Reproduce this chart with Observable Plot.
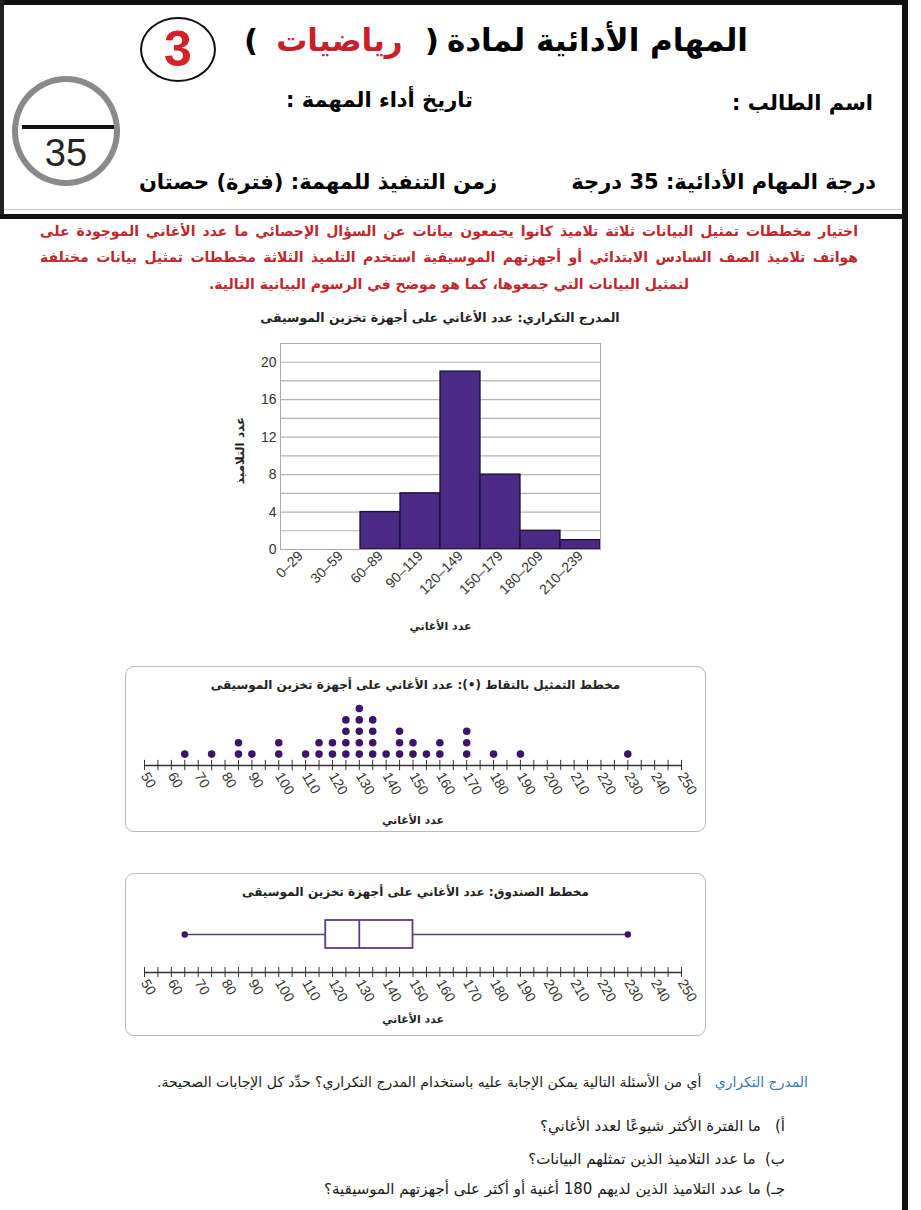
<!DOCTYPE html>
<html><head><meta charset="utf-8">
<script src="https://cdn.jsdelivr.net/npm/d3@7"></script>
<script src="https://cdn.jsdelivr.net/npm/@observablehq/plot@0.6"></script>
<style>
body{margin:0;background:#fff;}
#page{position:relative;width:921px;height:1210px;overflow:hidden;font-family:"DejaVu Sans",sans-serif;background:#fff;}
.abs{position:absolute;}
.ar{direction:rtl;white-space:nowrap;font-weight:bold;}
.box{position:absolute;box-sizing:border-box;border:1.5px solid #b8b8b8;border-radius:9px;}
</style></head><body><div id="page">
<!-- borders -->
<div class="abs" style="left:0;top:0;width:908px;height:5px;background:#111"></div>
<div class="abs" style="left:0;top:0;width:4px;height:218px;background:#222"></div>
<div class="abs" style="left:902px;top:0;width:6px;height:1210px;background:#111"></div>
<div class="abs" style="left:4px;top:209px;width:898px;height:1px;background:#ccc"></div>
<div class="abs" style="left:0;top:214px;width:908px;height:5px;background:#111"></div>

<!-- title -->
<div class="abs" style="left:236px;top:22px;width:520px;display:flex;justify-content:center;align-items:center;direction:ltr;font-weight:bold;font-size:31px;white-space:nowrap;">
  <span style="margin-right:18px">(</span>
  <span style="color:#c8202a;direction:rtl">رياضيات</span>
  <span style="margin-left:22px;margin-right:8px">)</span>
  <span style="direction:rtl">المهام الأدائية لمادة</span>
</div>
<div class="abs" style="left:140px;top:17px;width:76px;height:65px;box-sizing:border-box;border:2px solid #111;border-radius:50%;"></div>
<div class="abs" style="left:140px;top:17px;width:76px;height:65px;line-height:65px;text-align:center;color:#d42027;font-weight:bold;font-size:50px;font-family:'Liberation Sans',Arial,sans-serif">3</div>

<!-- score circle -->
<div class="abs" style="left:12px;top:76px;width:108px;height:110px;box-sizing:border-box;border:6px solid #8a8a8a;border-radius:50%;"></div>
<div class="abs" style="left:22px;top:125px;width:92px;height:4px;background:#111"></div>
<div class="abs" style="left:16px;top:134px;width:100px;text-align:center;font-size:38px;line-height:38px;color:#222;font-family:'Liberation Sans',Arial,sans-serif">35</div>

<!-- header fields -->
<div class="abs ar" style="right:48px;top:91px;font-size:21px">اسم الطالب :</div>
<div class="abs ar" style="right:448px;top:88px;font-size:21px">تاريخ أداء المهمة :</div>
<div class="abs ar" style="right:45px;top:170px;font-size:21px">درجة المهام الأدائية: 35 درجة</div>
<div class="abs ar" style="right:424px;top:170px;font-size:21px">زمن التنفيذ للمهمة: (فترة) حصتان</div>

<!-- red paragraph -->
<div class="abs ar" style="left:40px;top:223px;width:818px;font-size:14px;color:#c0272d;text-align:justify;text-align-last:justify">اختيار مخططات تمثيل البيانات ثلاثة تلاميذ كانوا يجمعون بيانات عن السؤال الإحصائي ما عدد الأغاني الموجودة على</div>
<div class="abs ar" style="left:40px;top:249px;width:818px;font-size:14px;color:#c0272d;text-align:justify;text-align-last:justify">هواتف تلاميذ الصف السادس الابتدائي أو أجهزتهم الموسيقية استخدم التلميذ الثلاثة مخططات تمثيل بيانات مختلفة</div>
<div class="abs ar" style="left:40px;top:276px;width:818px;font-size:14px;color:#c0272d;text-align:center">لتمثيل البيانات التي جمعوها، كما هو موضح في الرسوم البيانية التالية.</div>

<!-- histogram -->
<div class="abs ar" style="left:200px;top:310px;width:480px;text-align:center;font-size:12.5px;color:#222">المدرج التكراري: عدد الأغاني على أجهزة تخزين الموسيقى</div>
<div id="hist" class="abs" style="left:200px;top:330px"></div>

<!-- dot plot -->
<div class="box" style="left:125px;top:666px;width:581px;height:166px"></div>
<div class="abs ar" style="left:125px;top:678px;width:581px;text-align:center;font-size:12px;color:#222">مخطط التمثيل بالنقاط (•): عدد الأغاني على أجهزة تخزين الموسيقى</div>
<div id="dots" class="abs" style="left:125px;top:666px"></div>

<!-- box plot -->
<div class="box" style="left:125px;top:873px;width:581px;height:163px"></div>
<div class="abs ar" style="left:125px;top:885px;width:581px;text-align:center;font-size:12px;color:#222">مخطط الصندوق: عدد الأغاني على أجهزة تخزين الموسيقى</div>
<div id="boxp" class="abs" style="left:125px;top:873px"></div>

<!-- questions -->
<div class="abs ar" style="right:113px;top:1074px;font-size:14px;font-weight:normal;color:#1a1a1a"><span style="color:#3b7bb5">المدرج التكراري</span>&nbsp;&nbsp; أي من الأسئلة التالية يمكن الإجابة عليه باستخدام المدرج التكراري؟ حدِّد كل الإجابات الصحيحة.</div>
<div class="abs ar" style="right:136px;top:1117px;font-size:15px;font-weight:normal;color:#1a1a1a">أ)&nbsp;&nbsp; ما الفترة الأكثر شيوعًا لعدد الأغاني؟</div>
<div class="abs ar" style="right:136px;top:1150px;font-size:15px;font-weight:normal;color:#1a1a1a">ب)&nbsp; ما عدد التلاميذ الذين تمثلهم البيانات؟</div>
<div class="abs ar" style="right:136px;top:1180px;font-size:15px;font-weight:normal;color:#1a1a1a">جـ) ما عدد التلاميذ الذين لديهم 180 أغنية أو أكثر على أجهزتهم الموسيقية؟</div>
</div>
<script>
const histBins = ["0–29","30–59","60–89","90–119","120–149","150–179","180–209","210–239"];
const histCounts = [0,0,4,6,19,8,2,1];
const histYTicks = [0,4,8,12,16,20];
const histGrid = [0,2,4,6,8,10,12,14,16,18,20,22];
const dotValues = [65,75,85,90,100,110,115,120,125,130,135,140,145,150,155,160,170,180,190,230];
const dotCounts = [1,1,2,1,2,1,2,2,4,5,4,1,3,2,1,2,3,1,1,1];
const axisLabels = [50,60,70,80,90,100,110,120,130,140,150,160,170,180,190,200,210,220,230,240,250];
const axisMinor = d3.range(50,251,5);
const boxNames = ["min","q1","median","q3","max"];
const boxValues = [65,117.5,130,150,230];

const xLabel = "عدد الأغاني";
const yLabel = "عدد التلاميذ";
const arFont = "DejaVu Sans, sans-serif";
const numStyle = {fontFamily:"Liberation Sans, Arial, sans-serif", fontSize:"14px", color:"#333", background:"transparent", overflow:"visible"};

// Histogram
const hist = histBins.map((b,i)=>({bin:b,count:histCounts[i]}));
const H = Plot.plot({
  width:420, height:310, marginLeft:80, marginRight:20, marginTop:13, marginBottom:91,
  style:numStyle,
  x:{domain:histBins, padding:0, label:null},
  y:{domain:[0,22], label:null},
  marks:[
    Plot.ruleY(histGrid,{stroke:"#b4b4b4",strokeWidth:1.2}),
    Plot.barY(hist,{x:"bin",y:"count",fill:"#4b2a86",stroke:"#1c0e33",strokeWidth:1.3}),
    Plot.frame({stroke:"#aaa"}),
    Plot.axisY({ticks:histYTicks,tickSize:0,tickPadding:4}),
    Plot.axisX({tickSize:0,tickRotate:-45,tickPadding:4}),
    Plot.text([yLabel],{text:d=>d,frameAnchor:"left",textAnchor:"middle",rotate:-90,dx:-40,dy:4,fontFamily:arFont,fontWeight:"bold",fontSize:12,fill:"#222"}),
    Plot.text([xLabel],{text:d=>d,frameAnchor:"bottom",dy:80,fontFamily:arFont,fontWeight:"bold",fontSize:11,fill:"#222"})
  ]
});
document.getElementById("hist").appendChild(H);

// Dot plot
const dotRows = dotValues.flatMap((v,i)=>d3.range(1,dotCounts[i]+1).map(k=>({v,k})));
const D = Plot.plot({
  width:581, height:166, marginLeft:19, marginRight:25, marginTop:0, marginBottom:67,
  style:numStyle,
  x:{domain:[50,250], label:null},
  y:{domain:[0,8], range:[99,99-8*11.4], axis:null},
  marks:[
    Plot.ruleY([0],{x1:50,x2:250,stroke:"#333",strokeWidth:1.3}),
    Plot.ruleX(axisMinor,{x:d=>d,y1:-0.45,y2:0.45,stroke:"#333",strokeWidth:1}),
    Plot.dot(dotRows,{x:"v",y:"k",r:3.8,fill:"#3b1569"}),
    Plot.axisX({ticks:axisLabels,tickSize:0,tickRotate:60,tickPadding:8}),
    Plot.text([xLabel],{text:d=>d,frameAnchor:"bottom",dy:58,fontFamily:arFont,fontWeight:"bold",fontSize:11,fill:"#222"})
  ]
});
document.getElementById("dots").appendChild(D);

// Box plot
const stat = Object.fromEntries(boxNames.map((n,i)=>[n,boxValues[i]]));
const boxC = 38, boxHalf = 14;
const B = Plot.plot({
  width:581, height:163, marginLeft:19, marginRight:25, marginTop:0, marginBottom:64,
  style:numStyle,
  x:{domain:[50,250], label:null},
  y:{domain:[0,99], range:[99,0], axis:null},
  marks:[
    Plot.ruleY([0],{x1:50,x2:250,stroke:"#333",strokeWidth:1.3}),
    Plot.ruleX(axisMinor,{x:d=>d,y1:-5,y2:5,stroke:"#333",strokeWidth:1}),
    Plot.ruleY([boxC],{x1:stat.min,x2:stat.q1,stroke:"#5a3b8c",strokeWidth:1.6}),
    Plot.ruleY([boxC],{x1:stat.q3,x2:stat.max,stroke:"#5a3b8c",strokeWidth:1.6}),
    Plot.rect([stat],{x1:"q1",x2:"q3",y1:boxC-boxHalf,y2:boxC+boxHalf,fill:"white",stroke:"#5a3b8c",strokeWidth:1.8}),
    Plot.ruleX([stat.median],{x:d=>d,y1:boxC-boxHalf,y2:boxC+boxHalf,stroke:"#5a3b8c",strokeWidth:1.8}),
    Plot.dot([stat.min,stat.max],{x:d=>d,y:boxC,r:3.2,fill:"#3b1569"}),
    Plot.axisX({ticks:axisLabels,tickSize:0,tickRotate:60,tickPadding:8}),
    Plot.text([xLabel],{text:d=>d,frameAnchor:"bottom",dy:50,fontFamily:arFont,fontWeight:"bold",fontSize:11,fill:"#222"})
  ]
});
document.getElementById("boxp").appendChild(B);
</script>
</body></html>
